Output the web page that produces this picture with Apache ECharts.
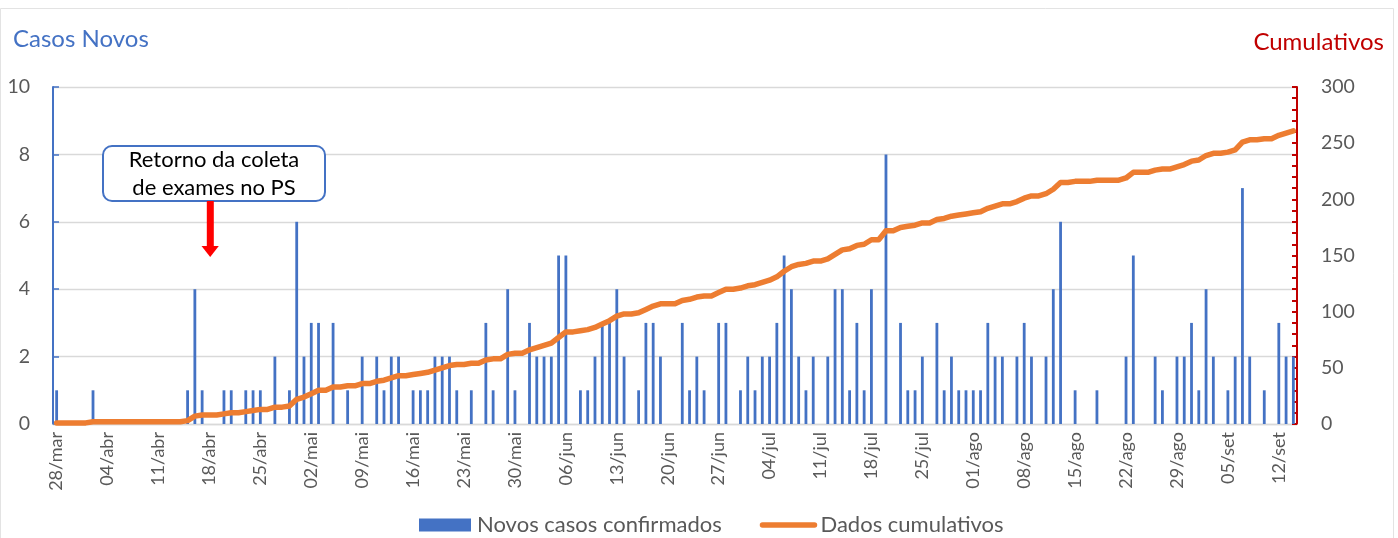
<!DOCTYPE html>
<html><head><meta charset="utf-8">
<script src="https://cdn.jsdelivr.net/npm/echarts@6/dist/echarts.min.js"></script>
<style>html,body{margin:0;padding:0;background:#fff}#c{width:1398px;height:538px}</style>
</head><body><div id="c"></div>
<script>
// ---- data ----
const startDate = [2020, 2, 28]; // 28/mar
const monthNames = ['jan','fev','mar','abr','mai','jun','jul','ago','set','out','nov','dez'];
const dayCount = 171; // 28/mar .. 14/set

// daily new confirmed cases (one row per week)
const newCases = [
  1,0,0,0,0,1,0,
  0,0,0,0,0,0,0,
  0,0,0,0,1,4,1,
  0,0,1,1,0,1,1,
  1,0,2,0,1,6,2,
  3,3,0,3,0,1,0,
  2,0,2,1,2,2,0,
  1,1,1,2,2,2,1,
  0,1,0,3,1,0,4,
  1,0,3,2,2,2,5,
  5,0,1,1,2,3,3,
  4,2,0,1,3,3,2,
  0,0,3,1,2,1,0,
  3,3,0,1,2,1,2,
  2,3,5,4,2,1,2,
  0,2,4,4,1,3,1,
  4,0,8,0,3,1,1,
  2,0,3,1,2,1,1,
  1,1,3,2,2,0,2,
  3,2,0,2,4,6,0,
  1,0,0,1,0,0,0,
  2,5,0,0,2,1,0,
  2,2,3,1,4,2,0,
  1,2,7,2,0,1,0,
  3,2,2
];

// cumulative cases
const cumulative = [
  1,1,1,1,1,2,2,
  2,2,2,2,2,2,2,
  2,2,2,2,3,7,8,
  8,8,9,10,10,11,12,
  13,13,15,15,16,22,24,
  27,30,30,33,33,34,34,
  36,36,38,39,41,43,43,
  44,45,46,48,50,52,53,
  53,54,54,57,58,58,62,
  63,63,66,68,70,72,77,
  82,82,83,84,86,89,92,
  96,98,98,99,102,105,107,
  107,107,110,111,113,114,114,
  117,120,120,121,123,124,126,
  128,131,136,140,142,143,145,
  145,147,151,155,156,159,160,
  164,164,172,172,175,176,177,
  179,179,182,183,185,186,187,
  188,189,192,194,196,196,198,
  201,203,203,205,209,215,215,
  216,216,216,217,217,217,217,
  219,224,224,224,226,227,227,
  229,231,234,235,239,241,241,
  242,244,251,253,253,254,254,
  257,259,261
];

const seriesNames = ['Novos casos confirmados', 'Dados cumulativos'];
const leftAxisTitle = 'Casos Novos';
const rightAxisTitle = 'Cumulativos';
const annotationText = 'Retorno da coleta\nde exames no PS';

// category labels dd/mmm for each day
const categories = [];
for (let i = 0; i < dayCount; i++) {
  const d = new Date(Date.UTC(startDate[0], startDate[1], startDate[2] + i));
  categories.push(String(d.getUTCDate()).padStart(2, '0') + '/' + monthNames[d.getUTCMonth()]);
}

const FONT = 'Lato';
const GRAY = '#595959';
const BLUE = '#4472C4';
const RED = '#C00000';
const ORANGE = '#ED7D31';

const chart = echarts.init(document.getElementById('c'), null, {renderer: 'canvas'});
chart.setOption({
  animation: false,
  backgroundColor: '#fff',
  textStyle: {fontFamily: FONT},
  grid: {left: 53, right: 101, top: 87, bottom: 114, containLabel: false},
  legend: {
    left: 419, top: 514, padding: 0,
    itemWidth: 52, itemHeight: 13, itemGap: 38,
    textStyle: {fontFamily: FONT, fontSize: 22, color: GRAY, padding: [0, 0, 0, 1]},
    data: [
      {name: seriesNames[0], icon: 'rect'},
      {name: seriesNames[1], itemStyle: {opacity: 0, borderWidth: 0}, lineStyle: {width: 5.5, cap: 'round', color: ORANGE}}
    ]
  },
  xAxis: {
    type: 'category',
    data: categories,
    boundaryGap: true,
    axisLine: {show: true, lineStyle: {color: '#d9d9d9', width: 1.3}},
    axisTick: {show: false},
    axisLabel: {interval: 6, rotate: 90, margin: 8, color: GRAY, fontSize: 18, fontFamily: FONT}
  },
  yAxis: [
    {
      type: 'value', min: 0, max: 10, interval: 2, position: 'left',
      axisLine: {show: true, lineStyle: {color: BLUE, width: 2}},
      axisTick: {show: true, inside: true, length: 6, lineStyle: {color: BLUE, width: 1.5}},
      axisLabel: {color: GRAY, fontSize: 19.5, fontFamily: FONT, margin: 23},
      splitLine: {show: true, lineStyle: {color: '#d9d9d9', width: 1.3}}
    },
    {
      type: 'value', min: 0, max: 300, interval: 50, position: 'right',
      axisLine: {show: true, lineStyle: {color: RED, width: 2}},
      axisTick: {show: true, inside: true, length: 5, lineStyle: {color: RED, width: 2}},
      minorTick: {show: true, splitNumber: 5, length: 5, lineStyle: {color: RED, width: 2}},
      axisLabel: {color: GRAY, fontSize: 19.5, fontFamily: FONT, margin: 24},
      splitLine: {show: false}
    }
  ],
  series: [
    {
      name: seriesNames[0], type: 'bar', data: newCases, yAxisIndex: 0,
      barWidth: 2.8, itemStyle: {color: BLUE}, z: 2
    },
    {
      name: seriesNames[1], type: 'line', data: cumulative, yAxisIndex: 1,
      symbol: 'none', showSymbol: false, smooth: false,
      lineStyle: {color: ORANGE, width: 5.5, cap: 'round', join: 'round'},
      itemStyle: {color: ORANGE}, z: 3
    }
  ],
  graphic: [
    {type: 'rect', silent: true, z: -10, shape: {x: 0.5, y: 8.5, width: 1393, height: 540},
     style: {fill: 'none', stroke: '#e3e3e3', lineWidth: 1}},
    {type: 'text', x: 13, y: 39, z: 10,
     style: {text: leftAxisTitle, fill: BLUE, font: '24px ' + FONT, textAlign: 'left', textVerticalAlign: 'middle'}},
    {type: 'text', x: 1384, y: 42, z: 10,
     style: {text: rightAxisTitle, fill: RED, font: '24px ' + FONT, textAlign: 'right', textVerticalAlign: 'middle'}},
    {type: 'rect', z: 10, shape: {x: 103, y: 146, width: 222, height: 55, r: 9},
     style: {fill: '#fff', stroke: BLUE, lineWidth: 2}},
    {type: 'text', x: 214, y: 174, z: 11,
     style: {text: annotationText, fill: '#000', font: '22px ' + FONT, lineHeight: 28, textAlign: 'center', textVerticalAlign: 'middle'}},
    {type: 'rect', z: 10, shape: {x: 206.8, y: 201, width: 7, height: 46}, style: {fill: '#FF0000'}},
    {type: 'polygon', z: 10, shape: {points: [[201.5, 246], [218.8, 246], [210.2, 257]]}, style: {fill: '#FF0000'}}
  ]
});
</script>
</body></html>
